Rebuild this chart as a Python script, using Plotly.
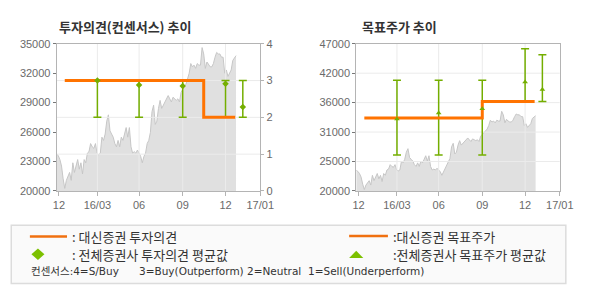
import plotly.graph_objects as go

# ---------------- data ----------------
# daily close (sampled), same stock series used in both panels
price = [23780, 23590, 23200, 22540, 21240, 20260, 21080, 21570, 21890, 21080,
         22870, 21890, 22540, 23200, 22220, 22870, 21730, 23200, 22870, 23850,
         24010, 24830, 24500, 24340, 24830, 23850, 23690, 23850, 25480, 25150,
         25800, 27110, 27760, 26130, 25800, 25480, 24830, 24500, 25150, 24500,
         25480, 25150, 25800, 26460, 25480, 26460, 24500, 23850, 24010, 23850,
         24170, 23850, 23520, 22870, 23520, 23850, 24830, 25150, 25970, 28090,
         28740, 26780, 27110, 28410, 29230, 28410, 28740, 29070, 29390, 29720,
         29390, 29070, 29550, 29390, 29230, 29390, 29070, 30040, 30370, 30700,
         30860, 31350, 32000, 32980, 32650, 32820, 32490, 32980, 32820, 32820,
         34610, 33960, 32490, 33140, 32820, 32650, 32650, 32980, 33630, 34120,
         33960, 33960, 33630, 33630, 32000, 32330, 31670, 32000, 32330, 33300,
         33630, 33790]
price_x = list(range(len(price)))

# x axis (sample index positions) and labels
x_range = [0, 126]
x_tickvals = [1.4, 25.2, 51, 78, 104.5, 126]
x_ticktext = ["12", "16/03", "06", "09", "12", "17/01"]

# Daishin investment opinion (step) — right axis 0..4
opinion_x = [5, 91, 110.5]
opinion_y = [3, 2, 2]

# consensus opinion (mean, high, low)
cons_x = [25.2, 51, 78, 104.5, 115.2]
cons_op_mean = [3.0, 2.88, 2.85, 2.91, 2.28]
cons_op_high = [3, 3, 3, 3, 3]
cons_op_low = [2, 2, 2, 2, 2]

# Daishin target price (step)
target_x = [5, 78, 110.4]
target_y = [33400, 36400, 36400]

# consensus target price (mean, high, low)
cons_tp_mean = [33200, 34300, 35100, 40000, 38600]
cons_tp_high = [40300, 40300, 40300, 46100, 45000]
cons_tp_low = [26600, 26600, 26600, 36400, 36400]

# axes ticks
left_y_ticks = [20000, 23000, 26000, 29000, 32000, 35000]
op_ticks = [0, 1, 2, 3, 4]
tp_tickvals = [20000, 25400, 30800, 36200, 41600, 47000]
tp_ticktext = ["20000", "25000", "31000", "36000", "42000", "47000"]

# legend texts
legend_texts = [": 대신증권 투자의견", ": 전체증권사 투자의견 평균값",
                ":대신증권 목표주가", ":전체증권사 목표주가 평균값"]
consensus_texts = ["컨센서스:4=S/Buy", "3=Buy(Outperform)", "2=Neutral", "1=Sell(Underperform)"]

# ---------------- style ----------------
W, H = 590, 300
ORANGE = "#ff7300"
GREEN = "#74ae00"
GRID = "#ebebeb"
AXLINE = "#b4b4b4"
TICKFONT = dict(family="Liberation Sans", size=11, color="#6a6a6a")
KFONT = "Noto Sans CJK KR"


def fx(p):
    return p / W


def fy(p):
    return 1 - p / H


dom_y = [fy(192.67), fy(39.33)]
dom_x1 = [fx(54.33), fx(264.33)]
dom_x2 = [fx(363.33), fx(573.33)]

fig = go.Figure()

# ---------- left panel ----------
fig.add_trace(go.Scatter(x=price_x, y=price, mode="lines", fill="tozeroy",
                         fillcolor="#e0e0e0", line=dict(color="#c6c6c6", width=1),
                         xaxis="x", yaxis="y", hoverinfo="skip"))

gx, gy = [], []
for v in op_ticks[1:-1]:
    gx += [x_range[0], x_range[1], None]
    gy += [v, v, None]
for t in x_tickvals[1:-1]:
    gx += [t, t, None]
    gy += [op_ticks[0], op_ticks[-1], None]
fig.add_trace(go.Scatter(x=gx, y=gy, mode="lines", line=dict(color=GRID, width=1),
                         xaxis="x", yaxis="y2", hoverinfo="skip"))

fig.add_trace(go.Scatter(
    x=cons_x, y=cons_op_mean, mode="markers", marker=dict(size=1, color=GREEN, opacity=0),
    error_y=dict(type="data", symmetric=False,
                 array=[h - m for h, m in zip(cons_op_high, cons_op_mean)],
                 arrayminus=[m - l for m, l in zip(cons_op_mean, cons_op_low)],
                 color=GREEN, thickness=1.5, width=4),
    xaxis="x", yaxis="y2", hoverinfo="skip"))
fig.add_trace(go.Scatter(x=opinion_x, y=opinion_y, mode="lines", line_shape="hv",
                         line=dict(color=ORANGE, width=3), xaxis="x", yaxis="y2"))
fig.add_trace(go.Scatter(x=cons_x, y=cons_op_mean, mode="markers",
                         marker=dict(symbol="diamond", size=5, color=GREEN),
                         xaxis="x", yaxis="y2"))

# ---------- right panel ----------
fig.add_trace(go.Scatter(x=price_x, y=price, mode="lines", fill="tozeroy",
                         fillcolor="#e0e0e0", line=dict(color="#c6c6c6", width=1),
                         xaxis="x2", yaxis="y3", hoverinfo="skip"))
gx, gy = [], []
for v in tp_tickvals[1:-1]:
    gx += [x_range[0], x_range[1], None]
    gy += [v, v, None]
for t in x_tickvals[1:-1]:
    gx += [t, t, None]
    gy += [tp_tickvals[0], tp_tickvals[-1], None]
fig.add_trace(go.Scatter(x=gx, y=gy, mode="lines", line=dict(color=GRID, width=1),
                         xaxis="x2", yaxis="y3", hoverinfo="skip"))
fig.add_trace(go.Scatter(
    x=cons_x, y=cons_tp_mean, mode="markers", marker=dict(size=1, color=GREEN, opacity=0),
    error_y=dict(type="data", symmetric=False,
                 array=[h - m for h, m in zip(cons_tp_high, cons_tp_mean)],
                 arrayminus=[m - l for m, l in zip(cons_tp_mean, cons_tp_low)],
                 color=GREEN, thickness=1.5, width=4),
    xaxis="x2", yaxis="y3", hoverinfo="skip"))
fig.add_trace(go.Scatter(x=target_x, y=target_y, mode="lines", line_shape="hv",
                         line=dict(color=ORANGE, width=3), xaxis="x2", yaxis="y3"))
fig.add_trace(go.Scatter(x=cons_x, y=cons_tp_mean, mode="markers",
                         marker=dict(symbol="triangle-up", size=5, color=GREEN),
                         xaxis="x2", yaxis="y3"))

xcommon = dict(range=x_range, tickvals=x_tickvals, ticktext=x_ticktext, showgrid=False,
               zeroline=False, showline=True, mirror=True, linecolor=AXLINE, linewidth=1,
               ticks="outside", ticklen=4, tickcolor=AXLINE, tickfont=TICKFONT)

fig.update_layout(
    width=W, height=H, margin=dict(l=0, r=0, t=0, b=0),
    paper_bgcolor="white", plot_bgcolor="white", showlegend=False,
    xaxis=dict(domain=dom_x1, anchor="y", **xcommon),
    yaxis=dict(domain=dom_y, anchor="x", range=[left_y_ticks[0], left_y_ticks[-1]],
               tickvals=left_y_ticks, tickformat="d", showgrid=False, zeroline=False,
               showline=True, mirror=True, linecolor=AXLINE, ticks="outside", ticklen=3,
               tickcolor="#777", tickfont=TICKFONT),
    yaxis2=dict(overlaying="y", side="right", anchor="x", range=[op_ticks[0], op_ticks[-1]],
                tickvals=op_ticks, showgrid=False, zeroline=False, showline=True,
                linecolor=AXLINE, ticks="outside", ticklen=3, tickcolor=AXLINE,
                tickfont=TICKFONT),
    xaxis2=dict(domain=dom_x2, anchor="y3", **xcommon),
    yaxis3=dict(domain=dom_y, anchor="x2", range=[tp_tickvals[0], tp_tickvals[-1]],
                tickvals=tp_tickvals, ticktext=tp_ticktext, showgrid=False, zeroline=False,
                showline=True, mirror=True, linecolor=AXLINE, ticks="outside", ticklen=3,
                tickcolor="#777", tickfont=TICKFONT),
)

# titles
TF = dict(family=KFONT, size=13, color="#333")
fig.add_annotation(xref="paper", yref="paper", x=fx(55), y=fy(21),
                   text="<b>투자의견(컨센서스) 추이</b>", showarrow=False,
                   xanchor="left", yanchor="middle", font=TF)
fig.add_annotation(xref="paper", yref="paper", x=fx(367), y=fy(21),
                   text="<b>목표주가 추이</b>", showarrow=False,
                   xanchor="left", yanchor="middle", font=TF)

# legend box
fig.add_shape(type="rect", xref="paper", yref="paper", x0=fx(7.5), x1=fx(579.5),
              y0=fy(289), y1=fy(228.5), line=dict(color="#dcdcdc", width=1.5),
              fillcolor="#fafafa", layer="below")
fig.add_shape(type="line", xref="paper", yref="paper", x0=fx(26.7), x1=fx(65),
              y0=fy(240), y1=fy(240), line=dict(color="#f07010", width=2.5))
fig.add_shape(type="line", xref="paper", yref="paper", x0=fx(356), x1=fx(396),
              y0=fy(239.5), y1=fy(239.5), line=dict(color="#f07010", width=2.5))
fig.add_shape(type="path", xref="paper", yref="paper",
              path=f"M {fx(28.3)} {fy(258.5)} L {fx(35)} {fy(252.5)} L {fx(41.7)} {fy(258.5)} L {fx(35)} {fy(264.5)} Z",
              fillcolor="#7cc000", line=dict(width=0))
fig.add_shape(type="path", xref="paper", yref="paper",
              path=f"M {fx(356)} {fy(262.5)} L {fx(363.3)} {fy(255)} L {fx(370.6)} {fy(262.5)} Z",
              fillcolor="#7cc000", line=dict(width=0))

LF = dict(family=KFONT, size=13, color="#333")
for tx, x, y in zip(legend_texts, [68.3, 68.3, 399, 399], [240, 258.5, 240, 258.5]):
    fig.add_annotation(xref="paper", yref="paper", x=fx(x), y=fy(y), text=tx, showarrow=False,
                       xanchor="left", yanchor="middle", font=LF)
SF = dict(family="DejaVu Sans, Noto Sans CJK KR", size=10.5, color="#333")
for tx, x in zip(consensus_texts, [25.5, 137, 249, 312]):
    fig.add_annotation(xref="paper", yref="paper", x=fx(x), y=fy(276.5), text=tx,
                       showarrow=False, xanchor="left", yanchor="middle", font=SF)

fig.write_html("out.html")
